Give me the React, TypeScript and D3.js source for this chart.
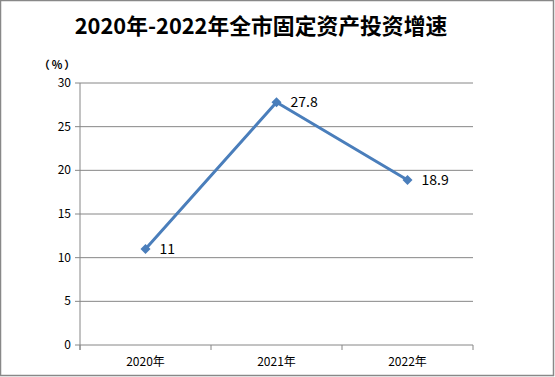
import React from "react";
import * as d3 from "d3";

const categories = ["2020年", "2021年", "2022年"];
const values = [11, 27.8, 18.9];
const yTicks = [0, 5, 10, 15, 20, 25, 30];
const title = "2020年-2022年全市固定资产投资增速";
const unitLabel = "（%）";

export default function App() {
  const W = 555, H = 377;
  const left = 80, right = 473, top = 83, bottom = 345;
  const x = d3.scaleBand<string>().domain(categories).range([left, right]);
  const y = d3.scaleLinear().domain([0, 30]).range([bottom, top]);
  const line = d3
    .line<number>()
    .x((_, i) => x(categories[i])! + x.bandwidth() / 2)
    .y((d) => y(d));
  const font = "'Microsoft YaHei','Noto Sans CJK SC','DejaVu Sans',sans-serif";
  const grid = "#868686";
  const blue = "#4a7ebb";
  const catEdges = [...categories.map((c) => x(c)!), right];
  return (
    <svg width={W} height={H} style={{ position: "absolute", left: 0, top: 0 }} fontFamily={font}>
      <rect x={0} y={0} width={W} height={H} fill="#fff" />
      <rect x={0.5} y={0.5} width={W - 2} height={H - 2} fill="none" stroke="#888" strokeWidth={1.5} />
      <text x={261} y={34} textAnchor="middle" fontSize={21.8} fontWeight="bold" fill="#000">
        {title}
      </text>
      <text x={58} y={69} textAnchor="middle" fontSize={11} fill="#000" fontWeight="bold" letterSpacing={2}>
        {unitLabel}
      </text>
      {yTicks.map((t) => (
        <g key={t}>
          <line x1={left - 5} x2={right} y1={y(t)} y2={y(t)} stroke={grid} strokeWidth={1} />
          <text x={71} y={y(t) + 4} textAnchor="end" fontSize={12} fill="#000">
            {t}
          </text>
        </g>
      ))}
      <line x1={left} x2={left} y1={top} y2={bottom + 5} stroke={grid} strokeWidth={1} />
      {catEdges.map((e, i) => (
        <line key={i} x1={e} x2={e} y1={bottom} y2={bottom + 5} stroke={grid} strokeWidth={1} />
      ))}
      {categories.map((c) => (
        <text key={c} x={x(c)! + x.bandwidth() / 2} y={366} textAnchor="middle" fontSize={12} fill="#000">
          {c}
        </text>
      ))}
      <path d={line(values) || ""} fill="none" stroke={blue} strokeWidth={3} strokeLinejoin="round" />
      {values.map((v, i) => {
        const cx = x(categories[i])! + x.bandwidth() / 2;
        const cy = y(v);
        return (
          <g key={i}>
            <path d={`M${cx},${cy - 5}L${cx + 5},${cy}L${cx},${cy + 5}L${cx - 5},${cy}Z`} fill={blue} />
            <text x={cx + 14} y={cy + 5} fontSize={14} fill="#000">
              {v}
            </text>
          </g>
        );
      })}
    </svg>
  );
}
